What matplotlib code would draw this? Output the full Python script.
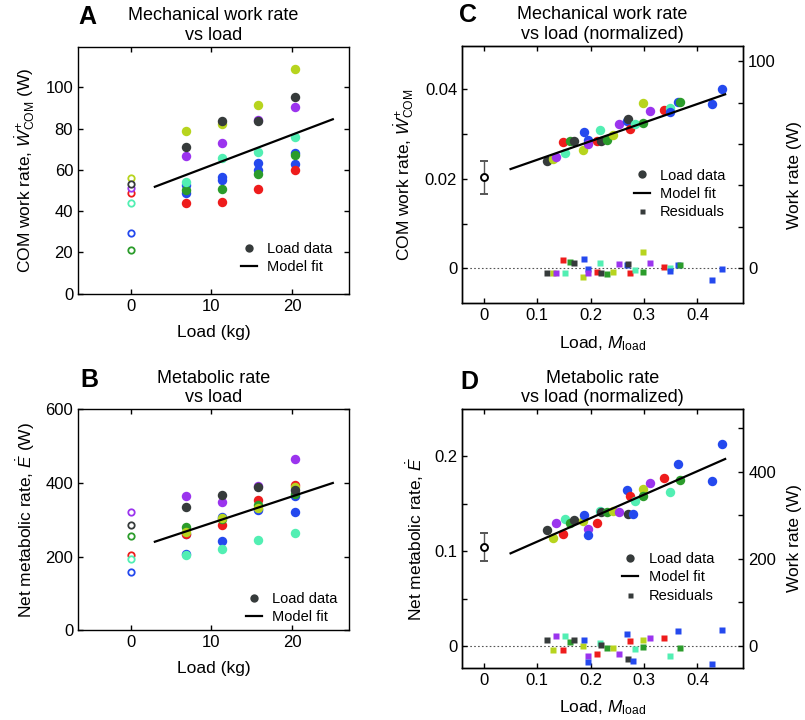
import numpy as np
import matplotlib
matplotlib.use('Agg')
import matplotlib.pyplot as plt
from matplotlib.lines import Line2D
from matplotlib.ticker import FixedLocator, MultipleLocator, FuncFormatter

plt.rcParams['font.family'] = ['Liberation Sans', 'DejaVu Sans']
plt.rcParams['mathtext.fontset'] = 'custom'
plt.rcParams['mathtext.rm'] = 'Liberation Sans'
plt.rcParams['mathtext.it'] = 'Liberation Sans:italic'
plt.rcParams['xtick.direction'] = 'in'
plt.rcParams['ytick.direction'] = 'in'
plt.rcParams['xtick.major.size'] = 3.5
plt.rcParams['ytick.major.size'] = 3.5
plt.rcParams['xtick.minor.size'] = 3.5
plt.rcParams['ytick.minor.size'] = 3.5
plt.rcParams['axes.linewidth'] = 1.0

# ---- data ----
# subjects, in drawing order (dark on top)
subjects = ['blue', 'blue2', 'red', 'green', 'cyan', 'purple', 'lime', 'dark']
subject_colors = ['#2449ee', '#2449ee', '#ee1c1c', '#2b9c2b', '#52efb3',
                  '#9b34ee', '#b7d41e', '#363b3b']
loads_kg = [6.8, 11.3, 15.8, 20.3]

# panel A: COM work rate (W), unloaded and with loads
work_unloaded = [29.3, np.nan, 48.9, 21.0, 43.9, 51.2, 56.0, 53.3]
work_loaded = [[52.5, 56.6, 63.5, 68.2],
               [49.0, 55.1, 60.0, 62.7],
               [43.7, 44.3, 50.5, 59.8],
               [50.0, 50.8, 58.2, 67.1],
               [54.3, 65.5, 68.4, 75.7],
               [66.7, 73.0, 84.0, 90.5],
               [78.9, 82.4, 91.6, 108.7],
               [71.2, 83.6, 83.6, 95.4]]
work_fit_x = [3, 25]
work_fit_y = [51.8, 84.5]

# panel B: net metabolic rate (W)
met_unloaded = [157, np.nan, 205, 257, 194, 321, np.nan, 285]
met_loaded = [[261, 307, 329, 365],
              [208, 243, 327, 322],
              [261, 287, 353, 395],
              [280, 303, 340, 370],
              [204, 222, 246, 265],
              [365, 349, 393, 466],
              [266, 306, 333, 388],
              [335, 366, 390, 380]]
met_fit_x = [3, 25]
met_fit_y = [240.5, 400]

# panel C: normalized work rate vs normalized load
c_load = [0.118, 0.130, 0.136, 0.148, 0.152, 0.161, 0.169, 0.186, 0.1876, 0.1957,
          0.195, 0.211, 0.217, 0.2195, 0.230, 0.242, 0.253, 0.2677, 0.270, 0.2745,
          0.283, 0.298, 0.299, 0.312, 0.338, 0.348, 0.348, 0.363, 0.368, 0.428, 0.447]
c_subj = ['dark', 'lime', 'purple', 'red', 'cyan', 'green', 'dark', 'lime', 'blue', 'blue',
          'purple', 'red', 'cyan', 'dark', 'green', 'lime', 'purple', 'blue', 'dark', 'red',
          'cyan', 'lime', 'green', 'purple', 'red', 'cyan', 'blue', 'blue', 'green', 'blue', 'blue']
c_work = [0.02405, 0.0245, 0.0249, 0.0282, 0.0258, 0.0285, 0.0285, 0.0264, 0.0305, 0.0287,
          0.0277, 0.0284, 0.0309, 0.0285, 0.0288, 0.0299, 0.0323, 0.0330, 0.0333, 0.0311,
          0.0322, 0.0370, 0.0325, 0.0351, 0.0355, 0.0358, 0.0350, 0.0371, 0.0372, 0.0367, 0.0400]
c_resid = [-0.0011, -0.0010, -0.0010, 0.0018, -0.0010, 0.0015, 0.0011, -0.0019, 0.0022, -0.0001,
           -0.0010, -0.0009, 0.0013, -0.0011, -0.0013, -0.0007, 0.0010, 0.0008, 0.0010, -0.0011,
           -0.0003, 0.0037, -0.0007, 0.0011, 0.0003, 0.0001, -0.0006, 0.0007, 0.0007, -0.0025, -0.0001]
c_fit_x = [0.05, 0.452]
c_fit_y = [0.0222, 0.0389]
c_zero_mean, c_zero_err = 0.0204, 0.0037
c_watts_per_unit = 2158

# panel D: normalized metabolic rate vs normalized load
d_load = [0.118, 0.130, 0.136, 0.148, 0.152, 0.161, 0.169, 0.186, 0.1876, 0.195,
          0.1957, 0.211, 0.217, 0.2195, 0.230, 0.242, 0.253, 0.2677, 0.270, 0.2745,
          0.279, 0.283, 0.298, 0.299, 0.312, 0.338, 0.348, 0.363, 0.368, 0.428, 0.447]
d_subj = ['dark', 'lime', 'purple', 'red', 'cyan', 'green', 'dark', 'lime', 'blue', 'purple',
          'blue', 'red', 'cyan', 'dark', 'green', 'lime', 'purple', 'blue', 'dark', 'red',
          'blue', 'cyan', 'lime', 'green', 'purple', 'red', 'cyan', 'blue', 'green', 'blue', 'blue']
d_met = [0.1218, 0.1137, 0.1295, 0.1180, 0.1338, 0.1302, 0.1330, 0.1318, 0.1383, 0.1232,
         0.1172, 0.1295, 0.1426, 0.1410, 0.1408, 0.1426, 0.1408, 0.1644, 0.1391, 0.1584,
         0.1391, 0.1524, 0.1655, 0.1584, 0.1718, 0.1774, 0.1619, 0.1915, 0.1746, 0.1735, 0.2133]
d_resid = [0.0067, -0.0039, 0.0102, -0.0039, 0.0102, 0.0046, 0.0060, 0.0004, 0.0063, -0.0109,
           -0.0166, -0.0084, 0.0028, 0.0014, -0.0018, -0.0025, -0.0081, 0.0127, -0.0134, 0.0050,
           -0.0155, -0.0030, 0.0063, -0.0014, 0.0088, 0.0081, -0.0102, 0.0158, -0.0020, -0.0193, 0.0169]
d_fit_x = [0.05, 0.452]
d_fit_y = [0.0977, 0.1972]
d_zero_mean, d_zero_err = 0.1045, 0.0148
d_watts_per_unit = 2177

color_of = dict(zip(subjects, subject_colors))
DARK = '#363b3b'

fig = plt.figure(figsize=(8.05, 7.2), dpi=100)
W, H = 805, 720


def px_axes(l, t, r, b):
    return fig.add_axes([l / W, 1 - b / H, (r - l) / W, (b - t) / H])


axA = px_axes(78, 47, 349, 293.7)
axB = px_axes(78, 409.3, 349, 630.3)
axC = px_axes(462, 46, 743.3, 303.3)
axD = px_axes(462, 409.3, 743.3, 667.7)

TICK_FS = 12
LABEL_FS = 12.5
TITLE_FS = 13
LEG_FS = 10.5


def raw_panel(ax, unloaded, loaded, fit_x, fit_y):
    for i, s in enumerate(subjects):
        c = subject_colors[i]
        ax.plot(loads_kg, loaded[i], 'o', color=c, ms=6.8, mec='none', zorder=3)
        ax.plot([0], [unloaded[i]], 'o', mfc='white', mec=c, mew=1.3, ms=4.6, zorder=3)
    ax.plot(fit_x, fit_y, color='k', lw=1.6, zorder=4)
    ax.set_xlim(-6.5, 27)
    ax.set_xticks([0, 10, 20])
    ax.tick_params(labelsize=TICK_FS, top=True, right=True, width=1)
    ax.set_xlabel('Load (kg)', fontsize=LABEL_FS, labelpad=8)


def legend(ax, x, y, resid=False):
    h = [Line2D([], [], ls='none', marker='o', mfc=DARK, mec='none', ms=6),
         Line2D([], [], color='k', lw=1.6)]
    lab = ['Load data', 'Model fit']
    if resid:
        h.append(Line2D([], [], ls='none', marker='s', mfc=DARK, mec='none', ms=3.6))
        lab.append('Residuals')
    ax.legend(h, lab, loc='center left', bbox_to_anchor=(x, y), frameon=False,
              fontsize=LEG_FS, handlelength=1.1, handletextpad=0.7,
              labelspacing=0.3, borderpad=0, borderaxespad=0)


# A
raw_panel(axA, work_unloaded, work_loaded, work_fit_x, work_fit_y)
axA.set_ylim(0, 119.5)
axA.set_yticks([0, 20, 40, 60, 80, 100])
axA.set_ylabel(r'COM work rate, $\dot{W}^{+}_{\mathrm{COM}}$ (W)', fontsize=LABEL_FS, labelpad=6)
axA.set_title('Mechanical work rate\nvs load', fontsize=TITLE_FS, pad=5)
legend(axA, 0.6, 0.145)

# B
raw_panel(axB, met_unloaded, met_loaded, met_fit_x, met_fit_y)
axB.set_ylim(0, 600)
axB.set_yticks([0, 200, 400, 600])
axB.set_ylabel(r'Net metabolic rate, $\dot{E}$ (W)', fontsize=LABEL_FS, labelpad=6)
axB.set_title('Metabolic rate\nvs load', fontsize=TITLE_FS, pad=5)
legend(axB, 0.62, 0.1)

fmt_g = FuncFormatter(lambda v, p: '%g' % round(v, 6))


def norm_panel(ax, xs, ys, subj, resid, fit_x, fit_y, m0, e0, scale,
               ylim, yticks, yminor, rstep, rlabels):
    ax.axhline(0, color='#555555', ls=(0, (1.5, 2)), lw=0.8, zorder=1)
    for x, y, s in zip(xs, ys, subj):
        ax.plot(x, y, 'o', color=color_of[s], ms=6.8, mec='none', zorder=3)
    for x, r, s in zip(xs, resid, subj):
        ax.plot(x, r, 's', color=color_of[s], ms=3.8, mec='none', zorder=3)
    ax.plot(fit_x, fit_y, color='k', lw=1.6, zorder=4)
    ax.errorbar([0], [m0], yerr=[e0], fmt='o', mfc='white', mec='k', mew=1.4, ms=5,
                ecolor='#555555', elinewidth=1, capsize=3, capthick=1, zorder=5)
    ax.set_xlim(-0.041, 0.486)
    ax.set_ylim(*ylim)
    ax.xaxis.set_major_locator(FixedLocator([0, 0.1, 0.2, 0.3, 0.4]))
    ax.xaxis.set_major_formatter(fmt_g)
    ax.yaxis.set_major_locator(FixedLocator(yticks))
    ax.yaxis.set_minor_locator(FixedLocator(yminor))
    ax.yaxis.set_major_formatter(fmt_g)
    ax.tick_params(which='both', labelsize=TICK_FS, top=True, right=False, width=1)
    ax.set_xlabel(r'Load, $M_{\mathrm{load}}$', fontsize=LABEL_FS, labelpad=8)
    ax2 = ax.twinx()
    ax2.set_ylim(ylim[0] * scale, ylim[1] * scale)
    ax2.yaxis.set_major_locator(MultipleLocator(rstep))
    ax2.yaxis.set_major_formatter(FuncFormatter(
        lambda v, p: '%d' % round(v) if round(v) in rlabels else ''))
    ax2.tick_params(labelsize=TICK_FS, width=1)
    ax2.set_ylabel('Work rate (W)', fontsize=LABEL_FS, labelpad=8)
    return ax2


norm_panel(axC, c_load, c_work, c_subj, c_resid, c_fit_x, c_fit_y, c_zero_mean, c_zero_err,
           c_watts_per_unit, (-0.0078, 0.0497), [0, 0.02, 0.04], [0.01, 0.03], 20, (0, 100))
axC.set_ylabel(r'COM work rate, $\dot{W}^{+}_{\mathrm{COM}}$', fontsize=LABEL_FS, labelpad=6)
axC.set_title('Mechanical work rate\nvs load (normalized)', fontsize=TITLE_FS, pad=5)
legend(axC, 0.61, 0.425, resid=True)

norm_panel(axD, d_load, d_met, d_subj, d_resid, d_fit_x, d_fit_y, d_zero_mean, d_zero_err,
           d_watts_per_unit, (-0.0229, 0.2496), [0, 0.1, 0.2], [0.05, 0.15], 100, (0, 200, 400))
axD.set_ylabel(r'Net metabolic rate, $\dot{E}$', fontsize=LABEL_FS, labelpad=6)
axD.set_title('Metabolic rate\nvs load (normalized)', fontsize=TITLE_FS, pad=5)
legend(axD, 0.57, 0.35, resid=True)

for letter, x, y in [('A', 78, 17), ('B', 80, 380), ('C', 459, 15), ('D', 460, 382)]:
    fig.text(x / W, 1 - y / H, letter, fontsize=18, fontweight='bold', va='center', ha='left')

fig.savefig('out.png', dpi=100)
